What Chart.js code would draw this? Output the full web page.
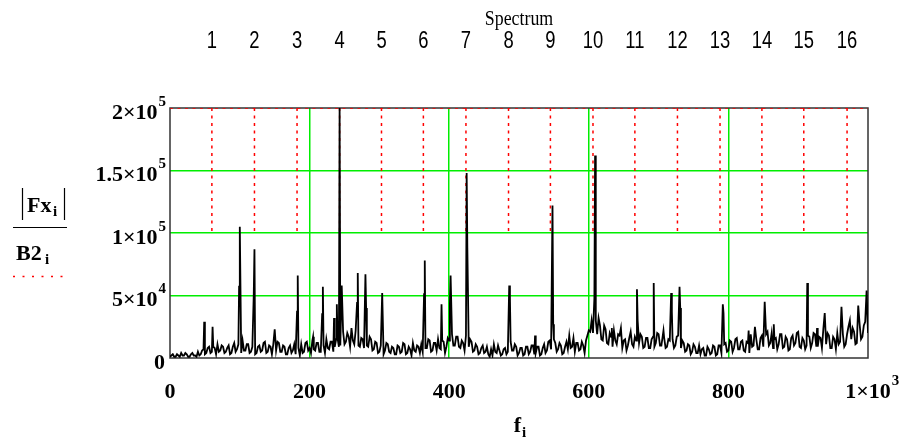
<!DOCTYPE html>
<html>
<head>
<meta charset="utf-8">
<script src="https://cdn.jsdelivr.net/npm/chart.js@4"></script>
<style>
  html, body { margin: 0; padding: 0; background: #fff; }
  #wrap { width: 906px; height: 441px; }
</style>
</head>
<body>
<div id="wrap"><canvas id="spectrumChart" width="906" height="441"></canvas></div>
<script>
// |Fx| floor every 2 Hz, 0..1000 (thousands)
const floorStep = 2;
const floorMag = [
  1, 2, 3, 1, 1, 3, 2, 1, 4, 2,
  2, 4, 3, 1, 1, 3, 4, 2, 2, 1,
  5, 2, 3, 6, 7, 3, 4, 8, 9, 4,
  5, 9, 8, 3, 11, 5, 6, 10, 9, 4,
  5, 8, 10, 3, 4, 9, 12, 5, 7, 11,
  9, 4, 14, 6, 6, 11, 11, 4, 5, 9,
  8, 3, 4, 9, 10, 5, 6, 12, 13, 4,
  5, 10, 9, 3, 11, 7, 6, 13, 12, 5,
  5, 10, 9, 3, 3, 8, 10, 4, 6, 11,
  3, 8, 8, 2, 11, 4, 5, 12, 13, 6,
  8, 4, 14, 7, 6, 12, 12, 5, 5, 10,
  10, 4, 15, 8, 7, 13, 13, 5, 9, 15,
  16, 9, 10, 18, 21, 11, 13, 20, 17, 9,
  24, 14, 11, 22, 19, 10, 9, 16, 15, 8,
  20, 10, 9, 17, 15, 6, 7, 13, 12, 4,
  5, 10, 10, 3, 6, 12, 11, 5, 4, 9,
  8, 3, 3, 10, 9, 4, 5, 12, 11, 3,
  4, 9, 7, 2, 12, 6, 5, 10, 9, 4,
  11, 5, 16, 8, 8, 15, 14, 5, 6, 12,
  12, 6, 15, 8, 7, 14, 13, 4, 9, 16,
  14, 7, 19, 10, 10, 17, 17, 9, 8, 14,
  12, 6, 18, 9, 9, 15, 13, 5, 6, 11,
  9, 3, 4, 8, 10, 4, 5, 9, 3, 1,
  7, 2, 11, 5, 4, 10, 6, 2, 3, 7,
  8, 3, 5, 9, 13, 6, 6, 11, 9, 2,
  4, 8, 8, 2, 3, 9, 9, 3, 5, 10,
  10, 3, 4, 9, 9, 2, 3, 8, 11, 4,
  6, 13, 14, 7, 8, 15, 12, 5, 7, 12,
  10, 3, 4, 9, 13, 7, 18, 8, 9, 16,
  5, 12, 12, 6, 7, 13, 10, 4, 14, 18,
  22, 12, 30, 20, 36, 24, 19, 32, 26, 15,
  14, 26, 23, 12, 11, 20, 17, 9, 22, 14,
  11, 19, 18, 7, 8, 14, 15, 6, 10, 16,
  21, 11, 9, 17, 14, 7, 12, 19, 17, 8,
  9, 16, 16, 8, 8, 15, 17, 9, 12, 20,
  19, 10, 10, 18, 16, 8, 9, 15, 14, 6,
  15, 8, 10, 17, 18, 9, 8, 14, 12, 5,
  6, 11, 10, 3, 5, 11, 9, 4, 4, 10,
  3, 7, 8, 2, 2, 9, 7, 3, 4, 10,
  9, 2, 3, 10, 10, 4, 5, 11, 12, 5,
  6, 14, 13, 5, 8, 15, 16, 7, 7, 13,
  14, 6, 5, 13, 12, 4, 19, 9, 10, 17,
  15, 7, 7, 16, 18, 9, 11, 19, 21, 10,
  12, 20, 8, 15, 16, 7, 11, 19, 19, 8,
  9, 17, 15, 6, 7, 16, 18, 10, 12, 20,
  21, 9, 8, 16, 14, 7, 10, 18, 17, 8,
  12, 20, 19, 9, 9, 17, 16, 8, 23, 14,
  11, 20, 18, 8, 8, 17, 15, 7, 20, 11,
  13, 21, 19, 9, 11, 19, 25, 13, 15, 24,
  21, 11, 12, 20, 27, 15, 17, 26, 29, 16,
  20
];

// spikes and their shoulders (Hz, thousands)
const peakFreq = [49, 61, 99, 100, 120, 121, 150, 182, 183, 205, 218, 219, 235, 239, 243, 246,
  268, 269, 280, 281, 304, 364, 365, 389, 401, 402, 425, 426, 486, 487, 523, 548, 549,
  602, 608, 609, 610, 633, 646, 669, 670, 693, 707, 718, 719, 730, 731, 792, 793,
  829, 838, 852, 865, 913, 927, 938, 962, 974, 986, 998];
const peakMag = [29, 25, 57, 105, 51, 87, 23, 37, 66, 17, 35, 57, 32, 43, 200, 58,
  44, 68, 67, 40, 52, 51, 78, 43, 43, 66, 148, 88, 58, 48, 18, 122, 27,
  21, 48, 162, 30, 24, 24, 55, 30, 60, 22, 52, 37, 57, 40, 43, 36,
  22, 25, 45, 27, 60, 24, 36, 41, 30, 42, 54];

// B2: harmonic markers
const harmonicFreq = [60, 121, 182, 243, 303, 363, 424, 485, 545, 606, 666, 727, 788, 848, 908, 970];
const harmonicLabels = ['1', '2', '3', '4', '5', '6', '7', '8', '9', '10', '11', '12', '13', '14', '15', '16'];
const b2Top = 200000;
const b2Low = 100000;

const xTickVals = [0, 200, 400, 600, 800, 1000];
const xTickText = ['0', '200', '400', '600', '800', '1\u00d710'];
const xTickExp = ['', '', '', '', '', '3'];
const yTickVals = [0, 50000, 100000, 150000, 200000];
const yTickText = ['0', '5\u00d710', '1\u00d710', '1.5\u00d710', '2\u00d710'];
const yTickExp = ['', '4', '5', '5', '5'];

// build datasets
let magByFreq = {};
floorMag.forEach((m, i) => { magByFreq[i * floorStep] = m * 1000; });
peakFreq.forEach((f, i) => { magByFreq[f] = peakMag[i] * 1000; });
let spectrum = Object.keys(magByFreq).map(Number).sort((a, b) => a - b)
  .map(f => ({ x: f, y: magByFreq[f] }));

let b2 = [{ x: 0, y: b2Top }, { x: 1000, y: b2Top }, { x: 1000, y: null }];
harmonicFreq.forEach(f => {
  b2.push({ x: f, y: b2Top }, { x: f, y: b2Low }, { x: f, y: null });
});

const SERIF = '"Liberation Serif", "Times New Roman", serif';
const SANS = '"Liberation Sans", Arial, sans-serif';

function drawPow(ctx, base, exp, x, y, align) {
  ctx.font = 'bold 22px ' + SERIF;
  let w1 = ctx.measureText(base).width;
  ctx.font = 'bold 15px ' + SERIF;
  let w2 = exp ? ctx.measureText(exp).width : 0;
  let start = align === 'right' ? x - w1 - w2 : x - w1 / 2;
  ctx.textAlign = 'left';
  ctx.textBaseline = 'alphabetic';
  ctx.font = 'bold 22px ' + SERIF;
  ctx.fillText(base, start, y);
  if (exp) {
    ctx.font = 'bold 15px ' + SERIF;
    ctx.fillText(exp, start + w1 + 1, y - 13);
  }
}

const framePlugin = {
  id: 'frame',
  beforeDatasetsDraw(chart) {
    const { ctx, chartArea: a } = chart;
    ctx.save();
    ctx.strokeStyle = '#333';
    ctx.lineWidth = 1.5;
    ctx.strokeRect(a.left, a.top, a.right - a.left, a.bottom - a.top);
    ctx.restore();
  }
};

const labelPlugin = {
  id: 'mathcadLabels',
  afterDraw(chart) {
    const { ctx, chartArea: a } = chart;
    const xs = chart.scales.x, ys = chart.scales.y;
    ctx.save();
    ctx.fillStyle = '#000';

    yTickVals.forEach((v, i) => {
      drawPow(ctx, yTickText[i], yTickExp[i], 165, ys.getPixelForValue(v) + 10.5, 'right');
    });
    xTickVals.forEach((v, i) => {
      drawPow(ctx, xTickText[i], xTickExp[i], xs.getPixelForValue(v), 398, 'center');
    });

    // axis title f_i
    let cx = (a.left + a.right) / 2;
    ctx.font = 'bold 22px ' + SERIF;
    ctx.textAlign = 'right';
    ctx.fillText('f', cx + 2, 432);
    ctx.font = 'bold 15px ' + SERIF;
    ctx.textAlign = 'left';
    ctx.fillText('i', cx + 3, 437);

    // top title and harmonic numbers
    ctx.font = '21px ' + SERIF;
    ctx.textAlign = 'center';
    ctx.save();
    ctx.translate(cx, 25);
    ctx.scale(0.85, 1);
    ctx.fillText('Spectrum', 0, 0);
    ctx.restore();
    ctx.font = '23px ' + SANS;
    harmonicFreq.forEach((f, i) => {
      ctx.save();
      ctx.translate(xs.getPixelForValue(f), 48);
      ctx.scale(0.8, 1);
      ctx.fillText(harmonicLabels[i], 0, 0);
      ctx.restore();
    });

    // legend on the left
    ctx.textAlign = 'left';
    ctx.font = 'bold 22px ' + SERIF;
    ctx.fillText('Fx', 27, 212);
    ctx.font = 'bold 15px ' + SERIF;
    ctx.fillText('i', 53, 216);
    ctx.strokeStyle = '#000';
    ctx.lineWidth = 1.2;
    ctx.beginPath();
    ctx.moveTo(22.5, 188); ctx.lineTo(22.5, 220);
    ctx.moveTo(64.5, 188); ctx.lineTo(64.5, 220);
    ctx.moveTo(13, 227.5); ctx.lineTo(67, 227.5);
    ctx.stroke();
    ctx.font = 'bold 22px ' + SERIF;
    ctx.fillText('B2', 16, 260);
    ctx.font = 'bold 15px ' + SERIF;
    ctx.fillText('i', 45, 264);
    ctx.strokeStyle = '#ff0000';
    ctx.lineWidth = 1.5;
    ctx.setLineDash([2, 7.5]);
    ctx.beginPath();
    ctx.moveTo(13, 276.5); ctx.lineTo(64, 276.5);
    ctx.stroke();
    ctx.restore();
  }
};

function gridColor(c) {
  let v = c.tick.value;
  return (v === 0 || v === c.scale.max) ? 'rgba(0,0,0,0)' : '#00ee00';
}

let ctx = document.getElementById('spectrumChart').getContext('2d');
new Chart(ctx, {
  type: 'line',
  data: {
    datasets: [{
      label: '|Fx|',
      data: spectrum,
      borderColor: '#000',
      borderWidth: 1.8,
      pointRadius: 0,
      tension: 0,
      order: 0
    }, {
      label: 'B2',
      data: b2,
      borderColor: '#ff0000',
      borderWidth: 1.5,
      borderDash: [3, 4.5],
      pointRadius: 0,
      spanGaps: false,
      order: 1
    }]
  },
  options: {
    responsive: false,
    animation: false,
    layout: { padding: { left: 170, right: 38, top: 108, bottom: 83 } },
    plugins: { legend: { display: false }, tooltip: { enabled: false } },
    scales: {
      x: {
        type: 'linear', min: 0, max: 1000,
        ticks: { display: false, stepSize: 200 },
        grid: { color: gridColor, lineWidth: 1.5, drawTicks: false },
        border: { display: false },
        afterFit(s) { s.height = 0; }
      },
      y: {
        min: 0, max: 200000,
        ticks: { display: false, stepSize: 50000 },
        grid: { color: gridColor, lineWidth: 1.5, drawTicks: false },
        border: { display: false },
        afterFit(s) { s.width = 0; }
      }
    }
  },
  plugins: [framePlugin, labelPlugin]
});
</script>
</body>
</html>
